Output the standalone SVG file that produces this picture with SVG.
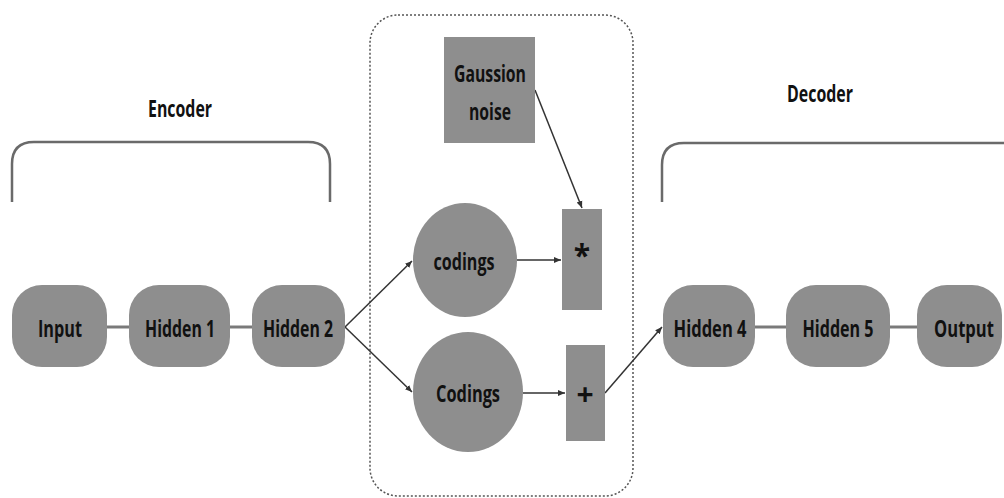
<svg xmlns="http://www.w3.org/2000/svg" width="1004" height="498" viewBox="0 0 1004 498">
<defs>
<marker id="ah" markerWidth="8" markerHeight="8" refX="7" refY="4" orient="auto" markerUnits="userSpaceOnUse">
<path d="M0,1 L7,4 L0,7 Z" fill="#333"/>
</marker>
<style>
.n{fill:#8e8e8e}
.t{font-family:"Open Sans","Liberation Sans",sans-serif;font-weight:bold;font-size:23px;fill:#111;text-anchor:middle}
.link{stroke:#7a7a7a;stroke-width:3;fill:none}
.arr{stroke:#333;stroke-width:1.5;fill:none;marker-end:url(#ah)}
.br{stroke:#6a6a6a;stroke-width:2.5;fill:none}
</style>
</defs>
<rect width="1004" height="498" fill="#fff"/>

<g id="encoder-bracket">
<path class="br" d="M12,202 V164 Q12,142 34,142 H308 Q330,142 330,164 V202"/>
<text class="t" x="180" y="117" textLength="64" lengthAdjust="spacingAndGlyphs">Encoder</text>
</g>
<g id="decoder-bracket">
<path class="br" d="M662,202 V165 Q662,143 684,143 H1004"/>
<text class="t" x="820" y="102" textLength="66" lengthAdjust="spacingAndGlyphs">Decoder</text>
</g>

<g id="latent-box">
<rect x="370" y="15" width="263" height="481" rx="28" ry="28" fill="none" stroke="#555" stroke-width="1.5" stroke-dasharray="2,2"/>
</g>

<g id="connectors">
<line class="link" x1="107" y1="327" x2="129" y2="327"/>
<line class="link" x1="230" y1="327" x2="252" y2="327"/>
<line class="link" x1="755" y1="327" x2="786" y2="327"/>
<line class="link" x1="890" y1="327" x2="917" y2="327"/>
<line class="arr" x1="345" y1="327" x2="412" y2="261"/>
<line class="arr" x1="345" y1="327" x2="412" y2="392"/>
<line class="arr" x1="517" y1="260" x2="561" y2="260"/>
<line class="arr" x1="523" y1="393" x2="565" y2="393"/>
<line class="arr" x1="535" y1="90" x2="582" y2="208"/>
<line class="arr" x1="605" y1="393" x2="662" y2="327"/>
</g>

<g id="input"><rect class="n" x="12" y="285" width="95" height="82" rx="30" ry="30"/><text class="t" x="60" y="337" textLength="44" lengthAdjust="spacingAndGlyphs">Input</text></g>
<g id="hidden1"><rect class="n" x="129" y="285" width="101" height="82" rx="30" ry="30"/><text class="t" x="180" y="337" textLength="70" lengthAdjust="spacingAndGlyphs">Hidden 1</text></g>
<g id="hidden2"><rect class="n" x="252" y="285" width="93" height="82" rx="30" ry="30"/><text class="t" x="298" y="337" textLength="70" lengthAdjust="spacingAndGlyphs">Hidden 2</text></g>
<g id="hidden4"><rect class="n" x="663" y="285" width="92" height="82" rx="30" ry="30"/><text class="t" x="710" y="337" textLength="73" lengthAdjust="spacingAndGlyphs">Hidden 4</text></g>
<g id="hidden5"><rect class="n" x="786" y="285" width="104" height="82" rx="30" ry="30"/><text class="t" x="838" y="337" textLength="71" lengthAdjust="spacingAndGlyphs">Hidden 5</text></g>
<g id="output"><rect class="n" x="917" y="285" width="85" height="82" rx="30" ry="30"/><text class="t" transform="translate(964,337) scale(0.72,1)" x="0" y="0">Output</text></g>

<g id="gaussian-noise"><rect class="n" x="444" y="37" width="91" height="106"/>
<text class="t" x="490" y="82" textLength="72" lengthAdjust="spacingAndGlyphs">Gaussion</text>
<text class="t" x="490" y="120" textLength="42" lengthAdjust="spacingAndGlyphs">noise</text></g>

<g id="codings-lower"><ellipse class="n" cx="465" cy="260" rx="52" ry="57"/><text class="t" x="464" y="270" textLength="61" lengthAdjust="spacingAndGlyphs">codings</text></g>
<g id="codings-upper"><ellipse class="n" cx="468" cy="392" rx="55" ry="60"/><text class="t" x="468" y="402" textLength="64" lengthAdjust="spacingAndGlyphs">Codings</text></g>

<g id="multiply"><rect class="n" x="562" y="209" width="40" height="101"/><text class="t" x="582" y="266" style="font-size:30px">*</text></g>
<g id="add"><rect class="n" x="566" y="345" width="39" height="96"/><text class="t" x="585" y="405" style="font-size:30px">+</text></g>
</svg>
